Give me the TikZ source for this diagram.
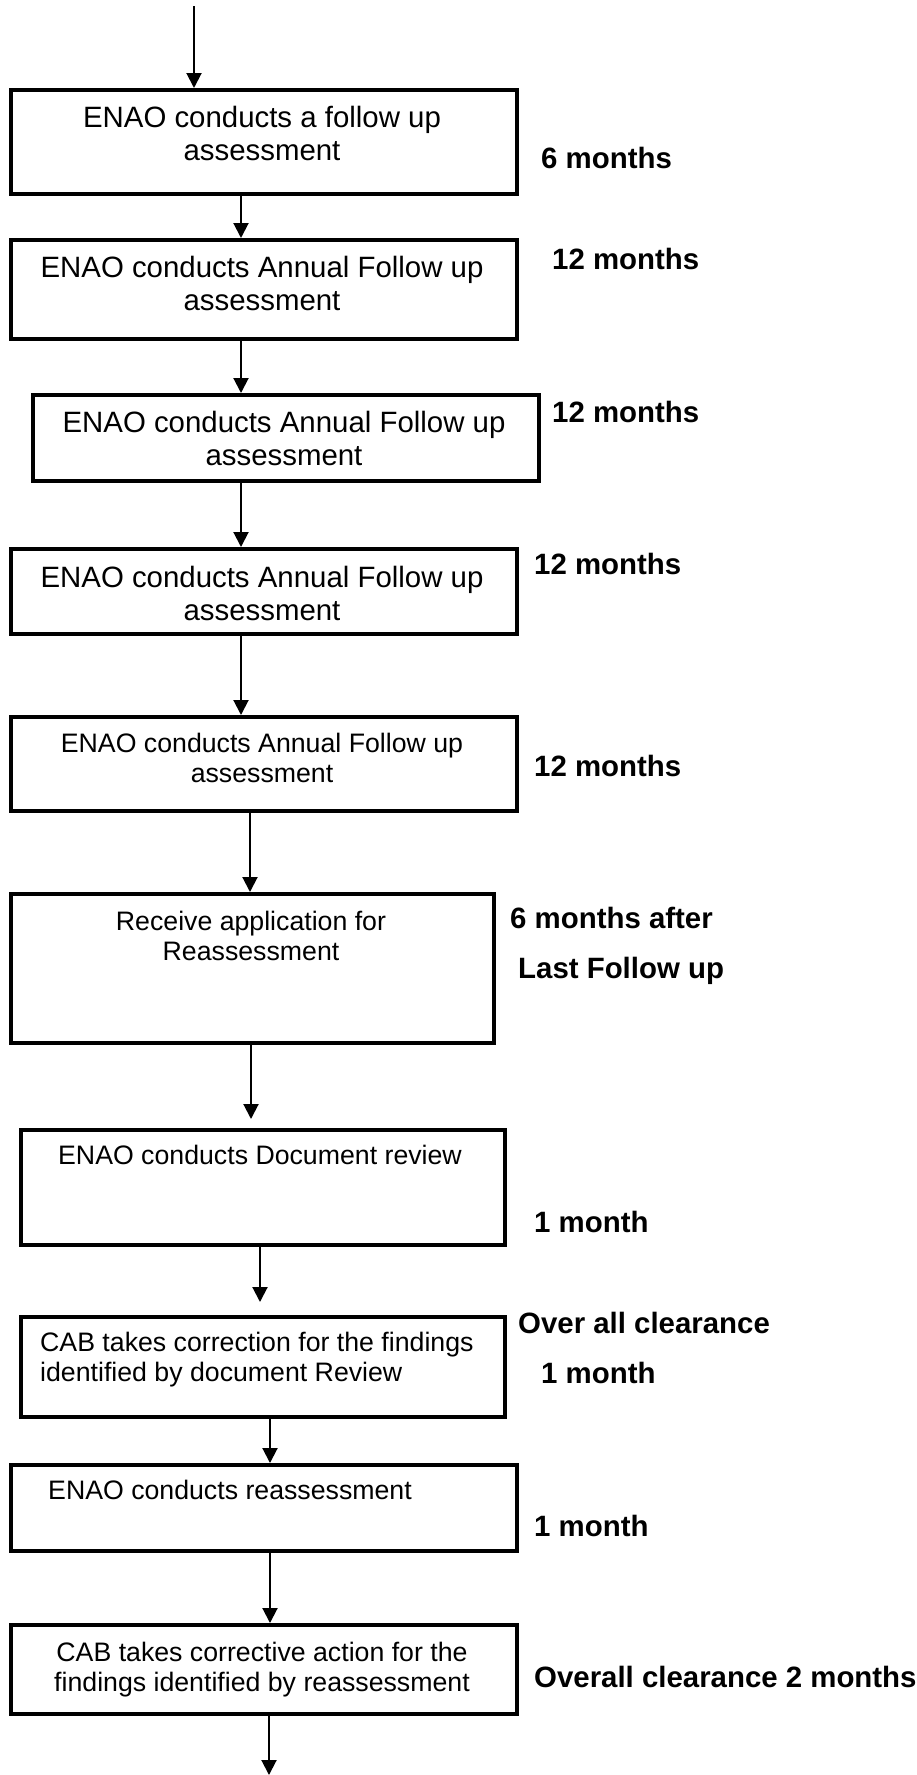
\documentclass[tikz,border=0pt]{standalone}
\usepackage{fontspec}
\setmainfont{Liberation Sans}
\usepackage{tikz}
\usetikzlibrary{positioning,calc,arrows.meta}

\tikzset{
    stagebox/.style={draw, line width=3.5pt, inner sep=0pt, anchor=north west},
    bigtext/.style={inner sep=0pt, font=\fontsize{29.4}{33}\selectfont},
    smalltext/.style={inner sep=0pt, font=\fontsize{26.7}{30}\selectfont},
    timelabel/.style={inner sep=0pt, anchor=base west, font=\fontsize{29.4}{33}\selectfont\bfseries},
    flow/.style={line width=2pt, -{Triangle[length=15pt,width=15pt]}}
}

\begin{document}
\begin{tikzpicture}[x=1pt, y=-1pt]
    \useasboundingbox (0,0) rectangle (916,1775);

    % Boxes
    \node[stagebox, minimum width=506pt, minimum height=104pt] (fu1) at (9,88) {};
    \node[stagebox, minimum width=506pt, minimum height=99pt] (fu2) at (9,238) {};
    \node[stagebox, minimum width=506pt, minimum height=86pt] (fu3) at (31,393) {};
    \node[stagebox, minimum width=506pt, minimum height=85pt] (fu4) at (9,547) {};
    \node[stagebox, minimum width=506pt, minimum height=94pt] (fu5) at (9,715) {};
    \node[stagebox, minimum width=483pt, minimum height=149pt] (reapp) at (9,892) {};
    \node[stagebox, minimum width=484pt, minimum height=115pt] (docrev) at (19,1128) {};
    \node[stagebox, minimum width=484pt, minimum height=100pt] (cabdoc) at (19,1315) {};
    \node[stagebox, minimum width=506pt, minimum height=86pt] (reass) at (9,1463) {};
    \node[stagebox, minimum width=506pt, minimum height=89pt] (cabreass) at (9,1623) {};

    % Box texts (base = baseline of last line)
    \node[bigtext, anchor=base, align=center] (fu1t) at (262,160) {ENAO conducts a follow up\\assessment};
    \node[bigtext, anchor=base, align=center] (fu2t) at (262,310) {ENAO conducts Annual Follow up\\assessment};
    \node[bigtext, anchor=base, align=center] (fu3t) at (284,465) {ENAO conducts Annual Follow up\\assessment};
    \node[bigtext, anchor=base, align=center] (fu4t) at (262,620) {ENAO conducts Annual Follow up\\assessment};
    \node[smalltext, anchor=base, align=center] (fu5t) at (262,782) {ENAO conducts Annual Follow up\\assessment};
    \node[smalltext, anchor=base, align=center] (reappt) at (251,960) {Receive application for\\Reassessment};
    \node[smalltext, anchor=base] (docrevt) at (260,1164) {ENAO conducts Document review};
    \node[smalltext, anchor=base west, align=left] (cabdoct) at (40,1381) {CAB takes correction for the findings\\identified by document Review};
    \node[smalltext, anchor=base west] (reasst) at (48,1499) {ENAO conducts reassessment};
    \node[smalltext, anchor=base, align=center] (cabreasst) at (262,1691) {CAB takes corrective action for the\\findings identified by reassessment};

    % Durations
    \node[timelabel] (d1) at (541,168) {6 months};
    \node[timelabel] (d2) at (552,269) {12 months};
    \node[timelabel] (d3) at (552,422) {12 months};
    \node[timelabel] (d4) at (534,574) {12 months};
    \node[timelabel] (d5) at (534,776) {12 months};
    \node[timelabel] (d6) at (510,928) {6 months after};
    \node[timelabel] (d6b) at (518,978) {Last Follow up};
    \node[timelabel] (d7) at (534,1232) {1 month};
    \node[timelabel] (d8) at (518,1333) {Over all clearance};
    \node[timelabel] (d8b) at (541,1383) {1 month};
    \node[timelabel] (d9) at (534,1536) {1 month};
    \node[timelabel] (d10) at (534,1687) {Overall clearance 2 months};

    % Arrows
    \coordinate (start) at (194,6);
    \coordinate (finish) at (269,1775);
    \draw[flow] (start) -- (start |- fu1.north);
    \draw[flow] (241,0 |- fu1.south) -- (241,0 |- fu2.north);
    \draw[flow] (241,0 |- fu2.south) -- (241,0 |- fu3.north);
    \draw[flow] (241,0 |- fu3.south) -- (241,0 |- fu4.north);
    \draw[flow] (241,0 |- fu4.south) -- (241,0 |- fu5.north);
    \draw[flow] (250,0 |- fu5.south) -- (250,0 |- reapp.north);
    \draw[flow] (251,0 |- reapp.south) -- ($(251,0 |- docrev.north)+(0,-9)$);
    \draw[flow] (260,0 |- docrev.south) -- ($(260,0 |- cabdoc.north)+(0,-13)$);
    \draw[flow] (270,0 |- cabdoc.south) -- (270,0 |- reass.north);
    \draw[flow] (270,0 |- reass.south) -- (270,0 |- cabreass.north);
    \draw[flow] (269,0 |- cabreass.south) -- (finish);
\end{tikzpicture}
\end{document}
